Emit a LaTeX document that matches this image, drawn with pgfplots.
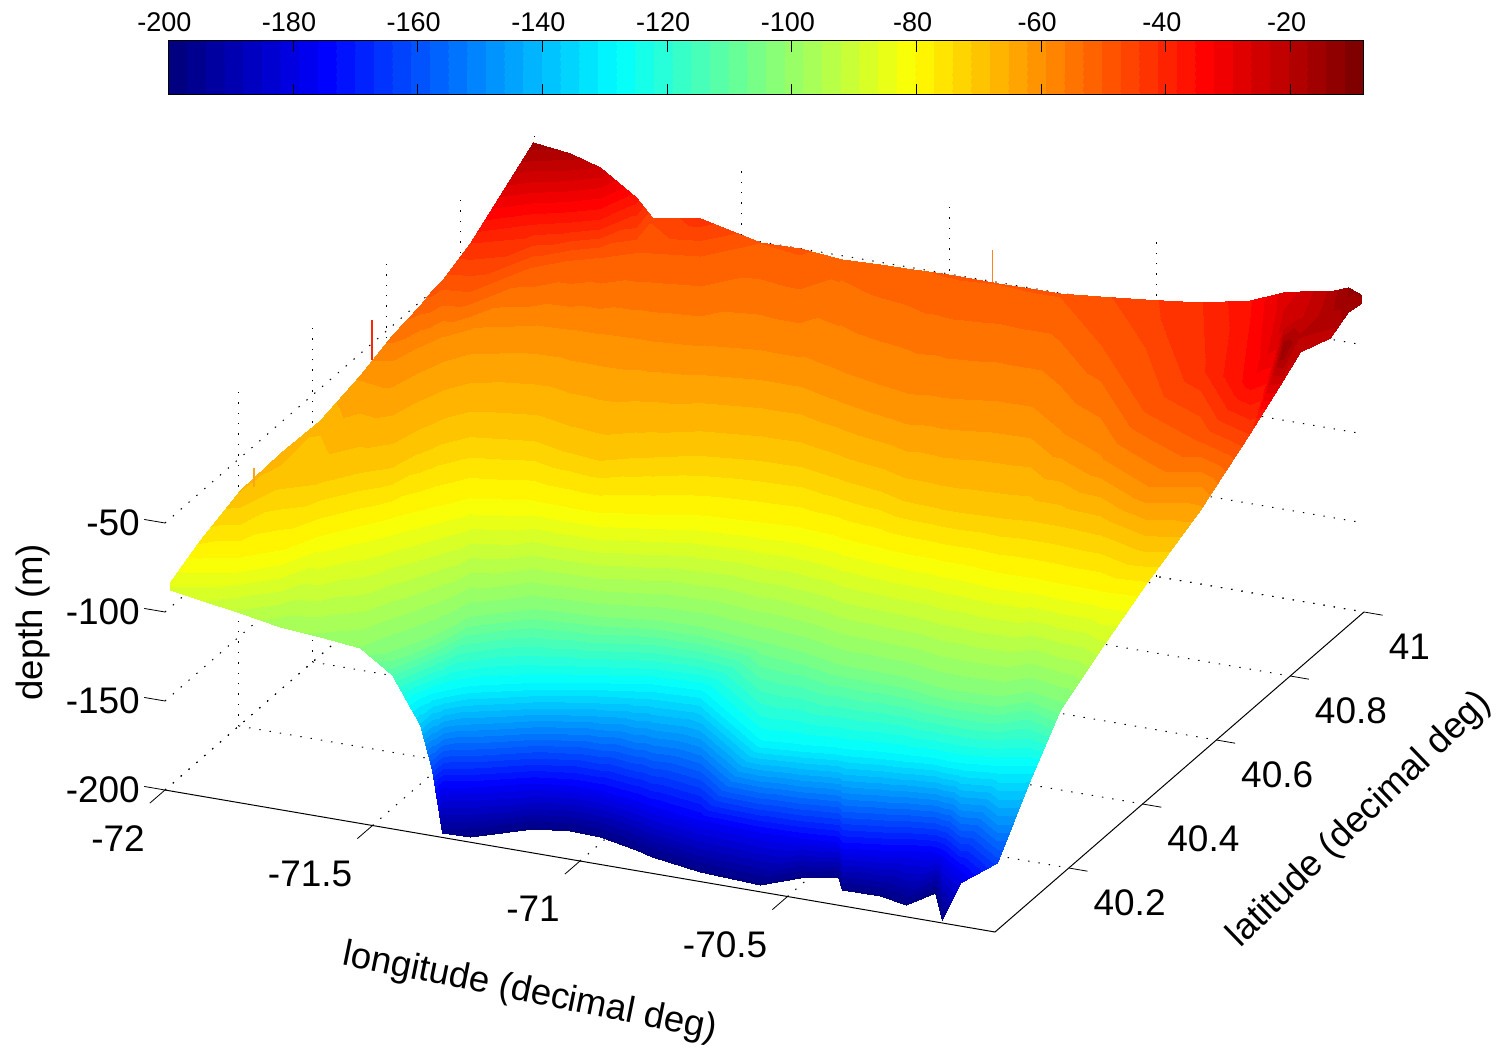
\documentclass[border=0pt]{standalone}
\usepackage{pgfplots}
\pgfplotsset{compat=1.18}
\usepackage{fontspec}
\setmainfont{Liberation Sans}
\usetikzlibrary{calc}
\pgfplotsset{colormap={jetzero}{rgb255(0cm)=(0,0,128) rgb255(1cm)=(0,0,255) rgb255(3cm)=(0,255,255) rgb255(5cm)=(255,255,0) rgb255(7cm)=(255,0,0) rgb255(8cm)=(128,0,0)}}
\pgfplotsset{colormap={jetsteps}{samples of colormap=(64 of jetzero)}}
\begin{document}
\begin{tikzpicture}
\begin{axis}[
  x={(207.5pt,-35.5pt)}, y={(184.5pt,160pt)}, z={(0pt,0.89pt)},
  xmin=-72, xmax=-70, ymin=40, ymax=41, zmin=-200, zmax=-10,
  clip=false, unbounded coords=jump,
  colormap name=jetsteps, colormap access=piecewise constant,
  point meta min=-200, point meta max=-8.4,
  axis line style={draw=none},
  xtick={-72,-71.5,-71,-70.5}, xticklabels={-72,-71.5,-71,-70.5},
  ytick={40.2,40.4,40.6,40.8,41}, yticklabels={40.2,40.4,40.6,40.8,41},
  ztick={-200,-150,-100,-50}, zticklabels={-200,-150,-100,-50},
  tick align=outside, major tick length=10pt,
  tick style={draw=none},
  grid=major, major grid style={black,line width=0.5pt,dash pattern=on 0.7pt off 4.5pt},
  tick label style={font=\fontsize{18.5}{21}\selectfont},
  xticklabel style={anchor=north east,xshift=1pt,yshift=-7.5pt},
  yticklabel style={anchor=west,xshift=-1pt,yshift=-15.5pt},
  zticklabel style={anchor=east,xshift=-1.5pt,yshift=6.5pt},
  label style={font=\fontsize{18.3}{21}\selectfont},
  xlabel={longitude (decimal deg)}, ylabel={latitude (decimal deg)}, zlabel={depth (m)},
  xlabel style={at={(axis cs:-70.794,39.633,-200)},anchor=center,rotate=-11.5},
  ylabel style={at={(axis cs:-69.525,40.455,-200)},anchor=center,rotate=44},
  zlabel style={at={(axis cs:-72.656,40.379,-200)},anchor=center,rotate=0},
]
\addplot3[surf,shader=interp,mesh/cols=10] table {
-71.987 39.999 -87
-71.987 39.999 -87
-71.987 39.999 -87
-71.987 39.999 -87
-71.987 39.999 -87
-72 40.014 -85.6
-72 40.014 -85.6
-72 40.014 -85.6
-72 40.014 -85.6
-72 40.014 -85.6
-71.912 39.996 -89
-71.912 39.996 -89
-71.912 39.996 -89
-71.912 39.996 -89
-71.968 40.058 -81
-72 40.095 -76.6
-72 40.095 -76.6
-72 40.095 -76.6
-72 40.095 -76.6
-72 40.095 -76.6
-71.818 39.998 -93
-71.818 39.998 -93
-71.818 39.998 -93
-71.818 39.998 -93
-71.887 40.075 -81
-71.985 40.186 -70
-72 40.203 -68
-72 40.203 -68
-72 40.203 -68
-72 40.203 -68
-71.723 40 -97.4
-71.723 40 -97.4
-71.723 40 -97.4
-71.723 40 -97.4
-71.823 40.112 -81
-71.951 40.256 -70
-72 40.312 -66.8
-72 40.312 -66.8
-72 40.312 -66.8
-72 40.312 -66.8
-71.626 40 -99
-71.626 40 -99
-71.626 40 -99
-71.626 40 -99
-71.777 40.169 -81
-71.882 40.287 -70
-72 40.42 -67.6
-72 40.42 -67.6
-72 40.42 -67.6
-72 40.42 -67.6
-71.531 40 -101.5
-71.531 40 -101.5
-71.531 40 -101.5
-71.531 40 -101.5
-71.72 40.213 -81
-71.825 40.331 -70
-72 40.528 -61.8
-72 40.528 -61.8
-72 40.528 -61.8
-72 40.528 -61.8
-71.45 39.997 -113
-71.45 39.997 -113
-71.45 39.997 -113
-71.464 40.012 -105
-71.673 40.248 -81
-71.772 40.358 -70
-71.951 40.56 -60
-72 40.615 -55
-72 40.615 -55
-72 40.615 -55
-71.382 39.996 -138
-71.382 39.996 -138
-71.403 40.019 -129
-71.431 40.051 -105
-71.634 40.279 -81
-71.751 40.41 -70
-71.93 40.612 -60
-72 40.691 -51.7
-72 40.691 -51.7
-72 40.691 -51.7
-71.357 40 -163
-71.357 40 -163
-71.39 40.037 -129
-71.419 40.069 -105
-71.617 40.292 -81
-71.738 40.429 -70
-71.917 40.63 -60
-72 40.724 -49.2
-72 40.724 -49.2
-72 40.724 -49.2
-71.327 39.993 -196
-71.351 40.02 -176
-71.375 40.047 -129
-71.41 40.087 -105
-71.601 40.302 -81
-71.73 40.447 -70
-71.909 40.648 -60
-72 40.751 -48.5
-72 40.751 -48.5
-72 40.751 -48.5
-71.269 40.004 -198
-71.294 40.032 -176
-71.329 40.072 -129
-71.388 40.138 -105
-71.56 40.332 -81
-71.689 40.477 -70
-71.87 40.681 -60
-71.927 40.744 -50
-72 40.827 -41.3
-72 40.827 -41.3
-71.16 40.053 -198
-71.176 40.071 -176
-71.209 40.108 -129
-71.28 40.187 -105
-71.429 40.355 -81
-71.553 40.494 -70
-71.748 40.714 -60
-71.858 40.837 -50
-71.898 40.882 -40
-72 40.997 -15.2
-71.082 40.065 -198
-71.098 40.083 -176
-71.135 40.125 -129
-71.196 40.194 -105
-71.339 40.354 -81
-71.449 40.477 -70
-71.662 40.718 -60
-71.8 40.873 -50
-71.828 40.905 -40
-71.913 41 -18.5
-71.008 40.062 -198
-71.026 40.083 -176
-71.075 40.138 -129
-71.127 40.196 -105
-71.267 40.354 -81
-71.37 40.47 -70
-71.591 40.718 -60
-71.747 40.893 -50
-71.775 40.925 -40
-71.841 41 -23.5
-70.904 40.044 -198
-70.93 40.072 -176
-71.002 40.152 -129
-71.049 40.207 -105
-71.192 40.367 -81
-71.304 40.493 -70
-71.506 40.721 -60
-71.685 40.923 -50
-71.737 40.98 -40
-71.754 41 -36.8
-70.856 40.033 -198
-70.884 40.064 -176
-70.968 40.159 -129
-71.015 40.212 -105
-71.157 40.372 -81
-71.274 40.503 -70
-71.467 40.72 -60
-71.653 40.93 -50
-71.716 41 -46.6
-71.716 41 -46.6
-70.724 40.016 -198
-70.754 40.049 -176
-70.857 40.165 -129
-70.902 40.215 -105
-71.058 40.391 -81
-71.182 40.53 -70
-71.359 40.729 -60
-71.549 40.944 -50
-71.6 41 -42.5
-71.6 41 -42.5
-70.574 40.009 -198
-70.606 40.045 -176
-70.619 40.059 -129
-70.747 40.203 -105
-70.922 40.4 -81
-71.05 40.544 -70
-71.227 40.743 -60
-71.455 41 -50.2
-71.455 41 -50.2
-71.455 41 -50.2
-70.509 40.045 -198
-70.512 40.047 -176
-70.529 40.066 -129
-70.643 40.195 -105
-70.829 40.405 -81
-70.955 40.547 -70
-71.13 40.743 -60
-71.359 41 -49.7
-71.359 41 -49.7
-71.359 41 -49.7
-70.436 40.065 -198
-70.426 40.054 -176
-70.446 40.075 -129
-70.537 40.178 -105
-70.732 40.398 -81
-70.852 40.532 -70
-71.019 40.721 -60
-71.267 41 -51.7
-71.267 41 -51.7
-71.267 41 -51.7
-70.398 40.032 -198
-70.404 40.039 -176
-70.435 40.074 -129
-70.526 40.176 -105
-70.72 40.394 -81
-70.839 40.528 -70
-71.006 40.716 -60
-71.258 41 -51.9
-71.258 41 -51.9
-71.258 41 -51.9
-70.307 40.033 -198
-70.323 40.051 -176
-70.351 40.083 -129
-70.433 40.175 -105
-70.622 40.387 -81
-70.736 40.516 -70
-70.899 40.7 -60
-71.166 41 -51
-71.166 41 -51
-71.166 41 -51
-70.234 40.021 -198
-70.271 40.063 -176
-70.292 40.087 -129
-70.37 40.174 -105
-70.556 40.384 -81
-70.659 40.5 -70
-70.829 40.691 -60
-71.104 41 -50.8
-71.104 41 -50.8
-71.104 41 -50.8
-70.203 40.066 -198
-70.207 40.071 -176
-70.226 40.092 -129
-70.29 40.164 -105
-70.485 40.384 -81
-70.586 40.497 -70
-70.765 40.698 -60
-71.034 41 -50.2
-71.034 41 -50.2
-71.034 41 -50.2
-70.126 39.998 -198
-70.186 40.066 -176
-70.208 40.09 -129
-70.271 40.161 -105
-70.467 40.381 -81
-70.567 40.495 -70
-70.746 40.696 -60
-71.017 41 -50.1
-71.017 41 -50.1
-71.017 41 -50.1
-70.102 40.019 -180
-70.115 40.035 -176
-70.165 40.09 -129
-70.228 40.162 -105
-70.424 40.382 -81
-70.524 40.495 -70
-70.708 40.702 -60
-70.973 41 -50
-70.973 41 -50
-70.973 41 -50
-70.002 40.009 -163
-70.002 40.009 -163
-70.082 40.1 -129
-70.14 40.165 -105
-70.327 40.375 -81
-70.437 40.499 -70
-70.627 40.713 -60
-70.882 41 -50.2
-70.882 41 -50.2
-70.882 41 -50.2
-70.01 40.105 -134
-70.01 40.105 -134
-70.017 40.114 -129
-70.087 40.193 -105
-70.25 40.376 -81
-70.365 40.505 -70
-70.551 40.714 -60
-70.805 41 -50
-70.805 41 -50
-70.805 41 -50
-69.996 40.172 -106
-69.996 40.172 -106
-69.996 40.172 -106
-69.996 40.172 -106
-70.176 40.374 -81
-70.293 40.506 -70
-70.433 40.663 -60
-70.733 41 -50
-70.733 41 -50
-70.733 41 -50
-69.993 40.277 -91
-69.993 40.277 -91
-69.993 40.277 -91
-69.993 40.277 -91
-70.079 40.374 -81
-70.191 40.5 -70
-70.299 40.621 -60
-70.543 40.896 -50
-70.636 41 -48
-70.636 41 -48
-70 40.406 -78
-70 40.406 -78
-70 40.406 -78
-70 40.406 -78
-70 40.406 -78
-70.06 40.473 -70
-70.146 40.571 -60
-70.29 40.733 -50
-70.528 41 -45.2
-70.528 41 -45.2
-70.001 40.556 -63
-70.001 40.556 -63
-70.001 40.556 -63
-70.001 40.556 -63
-70.001 40.556 -63
-70.001 40.556 -63
-70.035 40.595 -60
-70.11 40.679 -50
-70.239 40.824 -42
-70.395 41 -41.6
-70 40.691 -44
-70 40.691 -44
-70 40.691 -44
-70 40.691 -44
-70 40.691 -44
-70 40.691 -44
-70 40.691 -44
-70 40.691 -44
-70.075 40.775 -34
-70.275 41 -35.7
-69.979 40.756 -25
-69.979 40.756 -25
-69.979 40.756 -25
-69.979 40.756 -25
-69.979 40.756 -25
-69.979 40.756 -25
-69.979 40.756 -25
-70.003 40.783 -14
-70.106 40.9 -25
-70.195 41 -28
-69.997 40.823 -22
-69.997 40.823 -22
-69.997 40.823 -22
-69.997 40.823 -22
-69.997 40.823 -22
-69.997 40.823 -22
-69.997 40.823 -22
-70.028 40.858 -20
-70.091 40.929 -24
-70.154 41 -26
-69.969 40.873 -22
-69.969 40.873 -22
-69.969 40.873 -22
-69.969 40.873 -22
-69.969 40.873 -22
-69.969 40.873 -22
-69.969 40.873 -22
-69.969 40.873 -22
-70.005 40.914 -18
-70.07 40.985 -20
-69.964 40.916 -15
-69.964 40.916 -15
-69.964 40.916 -15
-69.964 40.916 -15
-69.964 40.916 -15
-69.964 40.916 -15
-69.964 40.916 -15
-69.964 40.916 -15
-70.018 40.977 -14
-70.018 40.977 -14
-69.957 40.946 -15
-69.957 40.946 -15
-69.957 40.946 -15
-69.957 40.946 -15
-69.957 40.946 -15
-69.957 40.946 -15
-69.957 40.946 -15
-69.957 40.946 -15
-69.957 40.946 -15
-69.972 40.962 -14
};
\addplot3[no marks,line width=0.9pt,color={rgb,255:red,245;green,40;blue,10}] coordinates {(-72,40.561,-59.3) (-72,40.561,-36.8)};
\addplot3[no marks,line width=0.6pt,color={rgb,255:red,255;green,130;blue,30}] coordinates {(-70.896,41,-50.6) (-70.896,41,-32.4)};
\addplot3[no marks,line width=0.6pt,color={rgb,255:red,255;green,165;blue,20}] coordinates {(-72,40.241,-73) (-72,40.241,-62.4)};
\addplot3[no marks,black,line width=0.5pt] coordinates {(-72,40,-200) (-70,40,-200) (-70,41,-200)};
\addplot3[no marks,black,line width=0.4pt] coordinates {
(-72,40,-200) (-72,39.959,-200) (nan,nan,nan)
(-71.5,40,-200) (-71.5,39.959,-200) (nan,nan,nan)
(-71,40,-200) (-71,39.959,-200) (nan,nan,nan)
(-70.5,40,-200) (-70.5,39.959,-200) (nan,nan,nan)
(-70,40.2,-200) (-69.955,40.2,-200) (nan,nan,nan)
(-70,40.4,-200) (-69.955,40.4,-200) (nan,nan,nan)
(-70,40.6,-200) (-69.955,40.6,-200) (nan,nan,nan)
(-70,40.8,-200) (-69.955,40.8,-200) (nan,nan,nan)
(-70,41,-200) (-69.955,41,-200) (nan,nan,nan)
(-72,40,-200) (-72.05,40,-200) (nan,nan,nan)
(-72,40,-150) (-72.05,40,-150) (nan,nan,nan)
(-72,40,-100) (-72.05,40,-100) (nan,nan,nan)
(-72,40,-50) (-72.05,40,-50)
};
\coordinate (P) at (axis cs:-72,40,-200);
\end{axis}
\begin{axis}[
  at={(P)}, anchor=south west, xshift=1.65pt, yshift=347.5pt,
  width=597.35pt, height=27pt, scale only axis, axis on top,
  xmin=-200, xmax=-8.4, ymin=0, ymax=1,
  colormap name=jetsteps, colormap access=piecewise constant,
  point meta min=-200, point meta max=-8.4,
  ytick=\empty,
  xtick={-200,-180,-160,-140,-120,-100,-80,-60,-40,-20},
  xticklabels={-200,-180,-160,-140,-120,-100,-80,-60,-40,-20},
  xtick pos=both, xticklabel pos=upper,
  tick align=inside, major tick length=5.5pt,
  tick style={black,line width=0.5pt},
  axis line style={black,line width=0.5pt},
  tick label style={font=\fontsize{13.5}{15}\selectfont,xshift=-2pt},
  xticklabel shift=1pt,
]
\addplot[surf,shader=interp,mesh/cols=2,point meta=x] table {
-200 0
-200 1
-8.4 0
-8.4 1
};
\end{axis}
\pgfresetboundingbox
\path[use as bounding box] ($(P)+(-82.5pt,-133.5pt)$) rectangle ($(P)+(668pt,395pt)$);
\end{tikzpicture}
\end{document}
